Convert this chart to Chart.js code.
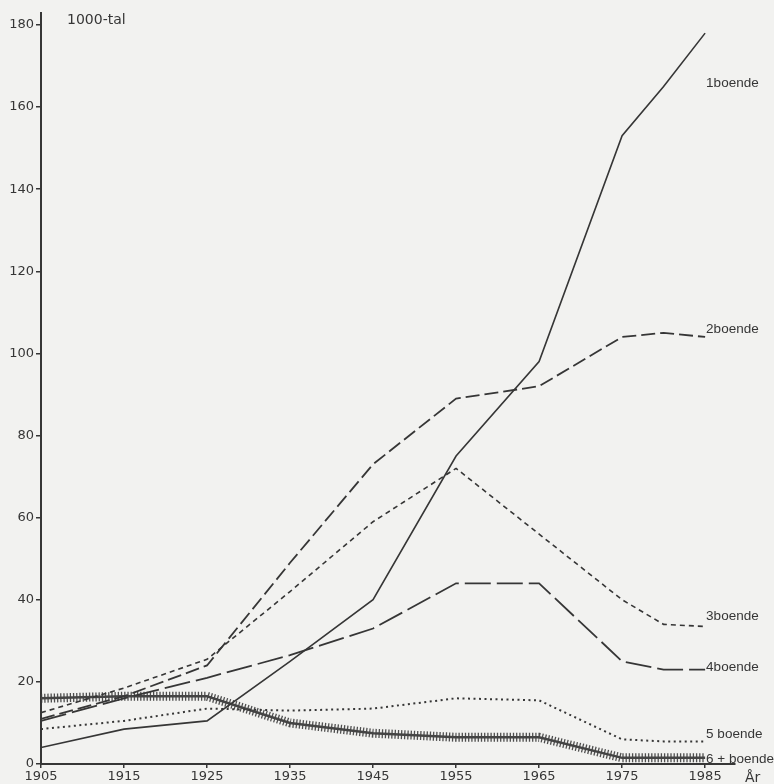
<!DOCTYPE html>
<html>
<head>
<meta charset="utf-8">
<script src="https://cdn.jsdelivr.net/npm/chart.js@4/dist/chart.umd.min.js"></script>
<style>
    html, body { margin: 0; padding: 0; background: #f2f2f0; overflow: hidden; }
    #wrap { position: relative; width: 774px; height: 800px; }
</style>
</head>
<body>
<div id="wrap"><canvas id="lineChart"></canvas></div>
<script>
// Data (1000-tal hushåll)
const years = [1905, 1915, 1925, 1935, 1945, 1955, 1965, 1975, 1980, 1985];
const tickYears = [1905, 1915, 1925, 1935, 1945, 1955, 1965, 1975, 1985];
const yTicks = [0, 20, 40, 60, 80, 100, 120, 140, 160, 180];

const boende1 = [4, 8.5, 10.5, 25, 40, 75, 98, 153, 165, 178];
const boende2 = [11, 16.5, 24, 49, 73, 89, 92, 104, 105, 104];
const boende3 = [12.5, 18.5, 25.5, 42, 59, 72, 56, 40, 34, 33.5];
const boende4 = [10.5, 16, 21, 26.5, 33, 44, 44, 25, 23, 23];
const boende5 = [8.5, 10.5, 13.5, 13, 13.5, 16, 15.5, 6, 5.5, 5.5];
const boende6 = [16, 16.5, 16.5, 10, 7.5, 6.5, 6.5, 1.5, 1.5, 1.5];

const seriesLabels = ['1boende', '2boende', '3boende', '4boende', '5 boende', '6 + boende'];

const ink = '#363636';
const font = "'DejaVu Sans', sans-serif";
const labelFont = "'Liberation Sans', Arial, sans-serif";

function pts(values) {
    return years.map((y, i) => ({ x: y, y: values[i] }));
}

// end labels next to the last point of each line
const endLabels = {
    id: 'endLabels',
    afterDatasetsDraw(chart) {
        const ctx = chart.ctx;
        ctx.save();
        ctx.fillStyle = ink;
        ctx.font = '13.5px ' + labelFont;
        ctx.textBaseline = 'middle';
        chart.data.datasets.forEach((ds, i) => {
            if (!ds.endLabel) return;
            const meta = chart.getDatasetMeta(i);
            const last = meta.data[meta.data.length - 1];
            ctx.fillText(ds.endLabel, last.x + 1, last.y + ds.labelDy);
        });
        ctx.font = '14px ' + font;
        ctx.fillText('1000-tal', 67, 20);
        ctx.fillText('År', 745, 778);
        ctx.restore();
    }
};

new Chart(document.getElementById('lineChart'), {
    type: 'line',
    data: {
        datasets: [
            {
                data: pts(boende1), endLabel: seriesLabels[0], labelDy: 50,
                borderColor: ink, borderWidth: 1.6
            },
            {
                data: pts(boende2), endLabel: seriesLabels[1], labelDy: -8,
                borderColor: ink, borderWidth: 1.8, borderDash: [14, 5]
            },
            {
                data: pts(boende3), endLabel: seriesLabels[2], labelDy: -10,
                borderColor: ink, borderWidth: 1.6, borderDash: [5, 4]
            },
            {
                data: pts(boende4), endLabel: seriesLabels[3], labelDy: -2,
                borderColor: ink, borderWidth: 1.8, borderDash: [26, 6]
            },
            {
                data: pts(boende5), endLabel: seriesLabels[4], labelDy: -7,
                borderColor: ink, borderWidth: 2, borderDash: [2, 3.5]
            },
            {
                data: pts(boende6), endLabel: seriesLabels[5], labelDy: 1,
                borderColor: '#444', borderWidth: 2.5
            },
            {
                // hatch marks on the 6+ line
                data: pts(boende6),
                borderColor: 'rgba(60,60,60,0.9)', borderWidth: 9, borderDash: [1.3, 1.9]
            }
        ]
    },
    options: {
        responsive: true,
        maintainAspectRatio: false,
        animation: false,
        layout: { padding: { top: 13, right: 39, left: 0, bottom: 0 } },
        elements: {
            point: { radius: 0 },
            line: { tension: 0, borderCapStyle: 'butt', fill: false }
        },
        scales: {
            x: {
                type: 'linear',
                min: 1905,
                max: 1988.6,
                afterBuildTicks: s => { s.ticks = tickYears.map(v => ({ value: v })); },
                afterFit: s => { s.height = 36; },
                border: { display: true, color: ink, width: 2 },
                grid: { display: true, drawOnChartArea: false, color: ink, lineWidth: 1.5, tickLength: 4 },
                ticks: {
                    color: ink, font: { family: font, size: 13 }, padding: 1, maxRotation: 0,
                    callback: v => String(v)
                }
            },
            y: {
                min: 0,
                max: 182.9,
                afterBuildTicks: s => { s.ticks = yTicks.map(v => ({ value: v })); },
                afterFit: s => { s.width = 41; },
                border: { display: true, color: ink, width: 2 },
                grid: { display: true, drawOnChartArea: false, color: ink, lineWidth: 1.5, tickLength: 5 },
                ticks: { color: ink, font: { family: font, size: 13 }, padding: 2 }
            }
        },
        plugins: {
            legend: { display: false },
            tooltip: { enabled: false }
        }
    },
    plugins: [endLabels]
});
</script>
</body>
</html>
